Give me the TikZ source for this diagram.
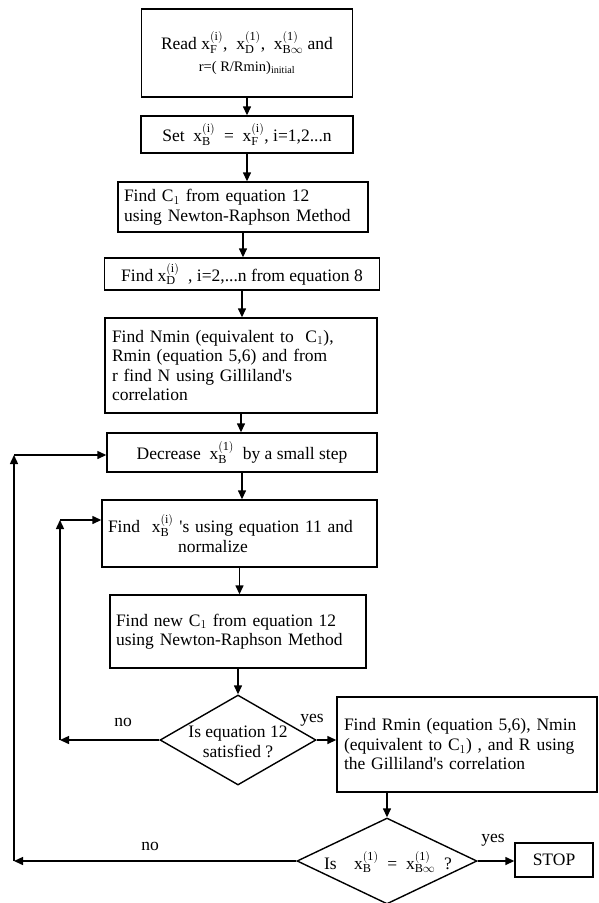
\documentclass[tikz,border=0pt]{standalone}
\usepackage{fontspec}
\setmainfont{Liberation Serif}
\usetikzlibrary{arrows.meta,shapes.geometric}
\newcommand{\xv}[2]{$\mathrm{x}^{(\mathrm{#1})}_{\mathrm{#2}}$}
\newcommand{\Cone}{$\mathrm{C}_{1}$}
\begin{document}
\begin{tikzpicture}[x=1pt,y=-1pt,
  box/.style={draw, line width=1.4pt, inner sep=5pt, font=\fontsize{17.5}{19.5}\selectfont},
  dia/.style={draw, diamond, line width=1.4pt, inner sep=0pt},
  conn/.style={line width=1.4pt, -{Triangle[length=9pt,width=8pt]}},
  lab/.style={font=\fontsize{17.5}{19.5}\selectfont, inner sep=0pt}]
\useasboundingbox (0,0) rectangle (599,903);

\node[box, minimum width=211pt, minimum height=88pt, align=center] (b1) at (247,53)
  {Read \xv{i}{F},\ \ \xv{1}{D},\ \ \xv{1}{B\infty} and\\[2pt]
   {\fontsize{14.5}{16}\selectfont r=( R/Rmin)\textsubscript{initial}}};
\node[box, minimum width=212pt, minimum height=37pt] (b2) at (247,134.5)
  {Set \ \xv{i}{B} \ = \ \xv{i}{F}, i=1,2...n};
\node[box, minimum width=250pt, minimum height=50pt, text width=238pt, align=left] (b3) at (243,207)
  {Find \Cone{} from equation 12\\using Newton-Raphson Method};
\node[box, minimum width=275pt, minimum height=32pt] (b4) at (242,274)
  {Find \xv{i}{D} \ , i=2,...n from equation 8};
\node[box, minimum width=272pt, minimum height=95pt, text width=258pt, align=left] (b5) at (241,365.5)
  {Find Nmin (equivalent to \ \Cone),\\Rmin (equation 5,6) and from\\r find N using Gilliland\textquotesingle s\\correlation};
\node[box, minimum width=270pt, minimum height=39pt] (b6) at (242,452.5)
  {Decrease \ \xv{1}{B} \ by a small step};
\node[box, minimum width=275pt, minimum height=67pt, text width=263pt, align=left] (b7) at (239.5,533.5)
  {Find \ \xv{i}{B} \textquotesingle s using equation 11 and\\\hspace*{4em}normalize};
\node[box, minimum width=256pt, minimum height=73pt, text width=244pt, align=left] (b8) at (238,631.5)
  {Find new \Cone{} from equation 12\\using Newton-Raphson Method};
\node[dia, minimum width=156pt, minimum height=90pt] (d1) at (238,740) {};
\node[lab, align=center] (d1t) at (238,742) {Is equation 12\\satisfied ?};
\node[box, minimum width=260pt, minimum height=95pt, text width=246pt, align=left] (b9) at (467,744.5)
  {Find Rmin (equation 5,6), Nmin\\(equivalent to \Cone) , and R using\\the Gilliland\textquotesingle s correlation};
\node[dia, minimum width=180pt, minimum height=86pt] (d2) at (387,861) {};
\node[lab] (d2t) at (388,862) {Is\quad\xv{1}{B} \ = \ \xv{1}{B\infty}\enspace?};
\node[box, minimum width=78pt, minimum height=34pt] (stop) at (554,860) {STOP};

\coordinate (ob) at (14,861);
\coordinate (ot) at (14,455);
\coordinate (ib) at (60,740);
\coordinate (it) at (60,520);

\draw[conn] (b1.south -| b2.north) -- (b2.north);
\draw[conn] (b2.south) -- (b2.south |- b3.north);
\draw[conn] (b3.south) -- (b3.south |- b4.north);
\draw[conn] (b4.south) -- (b4.south |- b5.north);
\draw[conn] (b5.south) -- (b5.south |- b6.north);
\draw[conn] (b6.south) -- (b6.south |- b7.north);
\draw[conn] (b7.south) -- (b7.south |- b8.north);
\draw[conn] (b8.south -| d1.north) -- (d1.north);
\draw[conn] (d1.east) -- (d1.east -| b9.west);
\draw[conn] (d2.north |- b9.south) -- (d2.north);
\draw[conn] (d2.east) -- (stop.west |- d2.east);
\draw[conn] (d1.west) -- (ib);
\draw[conn] (ib) -- (it);
\draw[conn] (it) -- (it -| b7.west);
\draw[conn] (d2.west) -- (ob);
\draw[conn] (ob) -- (ot);
\draw[conn] (ot) -- (ot -| b6.west);

\node[lab] (no1) at (123,722) {no};
\node[lab] (yes1) at (312,720) {yes};
\node[lab] (no2) at (150,846) {no};
\node[lab] (yes2) at (493,840) {yes};
\end{tikzpicture}
\end{document}
